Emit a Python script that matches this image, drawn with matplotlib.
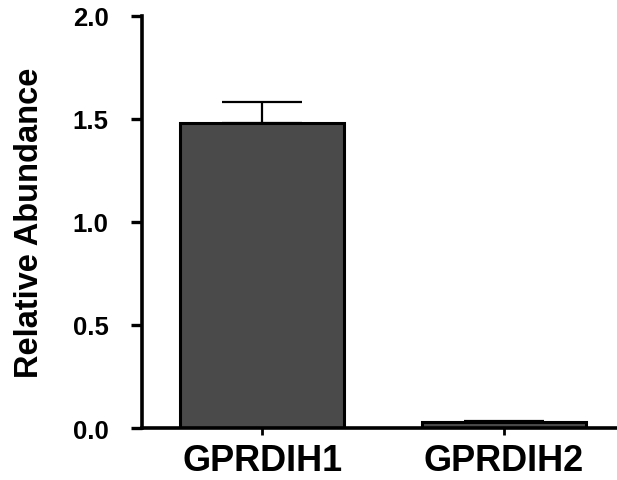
import matplotlib
matplotlib.use("Agg")
import matplotlib.pyplot as plt

categories = ["GPRDIH1", "GPRDIH2"]
values = [1.48, 0.03]
errors = [0.10, 0.005]
yticks = [0.0, 0.5, 1.0, 1.5, 2.0]

plt.rcParams['font.family'] = ['Liberation Sans', 'DejaVu Sans']
plt.rcParams['font.weight'] = 'bold'

fig = plt.figure(figsize=(6.17, 4.81), dpi=100)
ax = fig.add_axes([0.230, 0.108, 0.77, 0.857])

x = list(range(len(categories)))
ax.bar(x, values, width=0.68, color='#4a4a4a', edgecolor='black', linewidth=2.2, zorder=2)
ax.errorbar(x, values, yerr=[[0]*len(errors), errors], fmt='none', ecolor='black',
            elinewidth=1.6, capsize=29, capthick=1.6, zorder=1)

ax.set_xlim(-0.5, 1.47)
ax.set_ylim(0, 2.0)
ax.set_yticks(yticks)
ax.set_yticklabels([f"{t:.1f}" for t in yticks], fontsize=18.5, fontweight='bold')
ax.set_xticks(x)
ax.set_xticklabels(categories, fontsize=26, fontweight='bold')
ax.set_ylabel("Relative Abundance", fontsize=23.5, fontweight='bold', labelpad=20)

for s in ['top', 'right']:
    ax.spines[s].set_visible(False)
for s in ['left', 'bottom']:
    ax.spines[s].set_linewidth(2.6)
ax.tick_params(axis='y', length=8, width=2.4, pad=16)
ax.tick_params(axis='x', length=5, width=2.0, pad=6)

fig.savefig("out.png", dpi=100)
